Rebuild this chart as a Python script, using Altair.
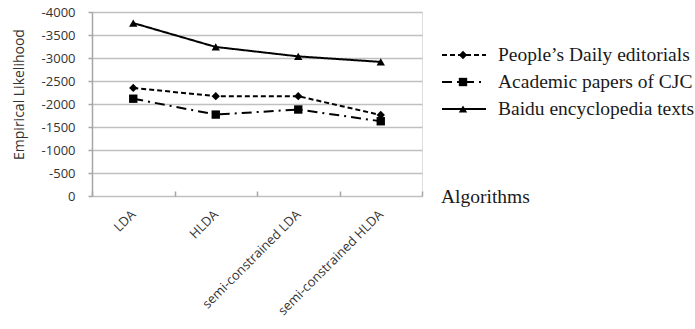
import altair as alt
import pandas as pd

algorithms = ["LDA", "HLDA", "semi-constrained LDA", "semi-constrained HLDA"]
series_names = ["People’s Daily editorials", "Academic papers of CJC", "Baidu encyclopedia texts"]
peoples_daily = [-2350, -2170, -2170, -1760]
academic_cjc = [-2115, -1770, -1880, -1625]
baidu_texts = [-3760, -3240, -3035, -2915]
y_ticks = [0, -500, -1000, -1500, -2000, -2500, -3000, -3500, -4000]
x_title = ["Algorithms"]

rows = []
for name, vals in zip(series_names, [peoples_daily, academic_cjc, baidu_texts]):
    for a, v in zip(algorithms, vals):
        rows.append({"series": name, "algorithm": a, "value": v})
df = pd.DataFrame(rows)
leg = pd.DataFrame({"series": series_names})
xt = pd.DataFrame({"label": x_title})

AX = "#a6a6a6"
LBL = "#333333"

shape_scale = alt.Scale(domain=series_names, range=["diamond", "square", "triangle-up"])
dash_scale = alt.Scale(domain=series_names, range=[[5, 3], [10, 5, 2, 5], [1, 0]])

x_enc = alt.X(
    "algorithm:N", sort=algorithms, bandPosition=0.5,
    scale=alt.Scale(type="band", paddingInner=0, paddingOuter=0),
    axis=alt.Axis(title=None, labelAngle=-45, labelAlign="right", labelBaseline="middle",
                  labelFont="Open Sans", labelFontSize=13, labelColor=LBL, labelPadding=16,
                  tickBand="extent", tickSize=5, tickColor=AX, tickWidth=1.5,
                  domain=False, offset=-5, grid=False, labelOverlap=False),
)
y_scale = alt.Scale(domain=[0, -4000], nice=False)
y_enc = alt.Y(
    "value:Q", scale=y_scale,
    axis=alt.Axis(values=y_ticks, labelExpr="'' + datum.value",
                  title="Empirical Likelihood", titleFont="Open Sans", titleFontSize=14,
                  titleFontWeight="normal", titleColor=LBL, titleAngle=-90,
                  titleX=-69, titleY=82, titleBaseline="alphabetic", titleAlign="center",
                  labelFont="Open Sans", labelFontSize=13, labelColor=LBL, labelPadding=13,
                  tickSize=4, tickColor=AX, tickWidth=1.5, domainColor=AX, domainWidth=1.5,
                  gridColor="#c0c0c0", gridWidth=1.5),
)
y_enc_noaxis = alt.Y("value:Q", scale=y_scale, axis=None)

base = alt.Chart(df)
lines = base.mark_line(color="black", strokeWidth=2).encode(
    x=x_enc, y=y_enc,
    strokeDash=alt.StrokeDash("series:N", scale=dash_scale, legend=None),
)
points = base.mark_point(filled=True, color="black", size=70, opacity=1).encode(
    x=x_enc, y=y_enc_noaxis,
    shape=alt.Shape("series:N", scale=shape_scale, legend=None),
)

legend_y = alt.Y("series:N", sort=series_names,
                 scale=alt.Scale(type="point", range=[43, 97], padding=0), axis=None)
leg_rules = alt.Chart(leg).mark_rule(color="black", strokeWidth=2).encode(
    x=alt.value(350), x2=alt.value(394), y=legend_y,
    strokeDash=alt.StrokeDash("series:N", scale=dash_scale, legend=None),
)
leg_points = alt.Chart(leg).mark_point(filled=True, color="black", size=70, opacity=1).encode(
    x=alt.value(371), y=legend_y,
    shape=alt.Shape("series:N", scale=shape_scale, legend=None),
)
leg_text = alt.Chart(leg).mark_text(
    align="left", baseline="alphabetic", dy=6, font="Liberation Serif",
    fontSize=19.5, color="#1a1a1a",
).encode(x=alt.value(406), y=legend_y, text="series:N")

xtitle = alt.Chart(xt).mark_text(
    align="left", baseline="alphabetic", font="Liberation Serif",
    fontSize=19.5, color="#1a1a1a",
).encode(x=alt.value(349), y=alt.value(191), text="label:N")

chart = alt.layer(lines, points, leg_rules, leg_points, leg_text, xtitle).resolve_scale(
    y="independent"
).properties(
    width=330, height=184,
    autosize=alt.AutoSizeParams(type="none"),
    padding={"left": 92, "top": 12, "right": 273, "bottom": 133},
).configure_view(stroke=None).configure(background="white")

chart.save("out.html", embed_options={"renderer": "svg", "actions": False})
